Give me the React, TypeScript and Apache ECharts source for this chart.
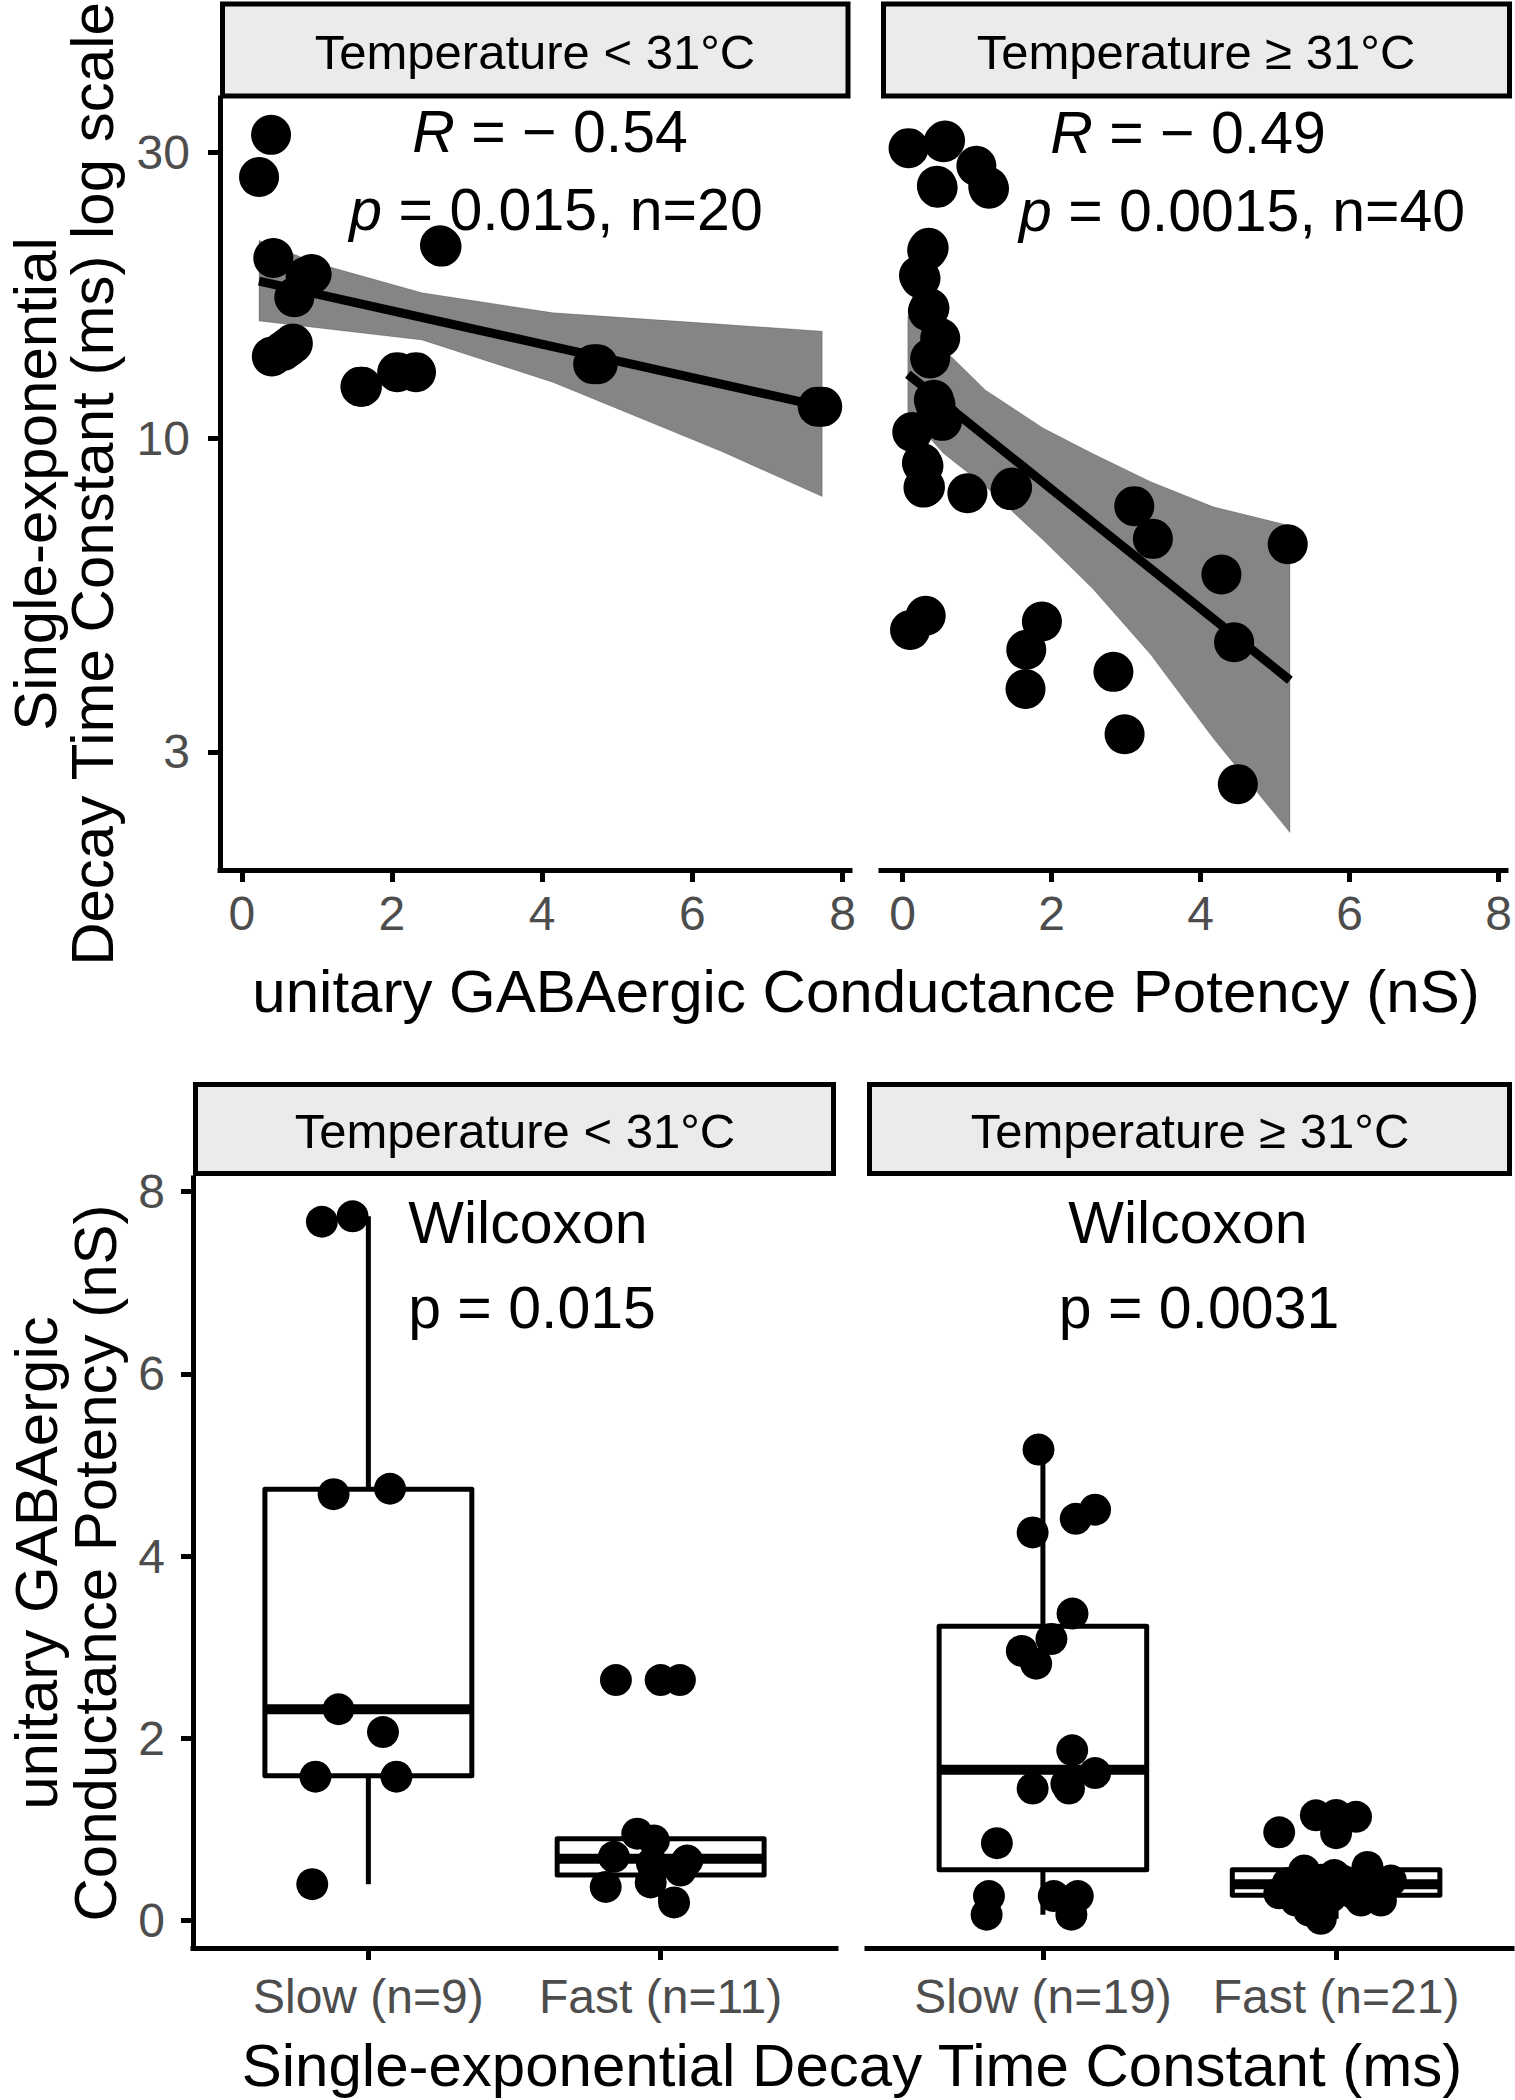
import React, { useEffect, useRef } from 'react';
import * as echarts from 'echarts';

// ---------- DATA ----------
// Top-left panel (Temperature < 31°C): potency (nS) vs decay tau (ms)
const topLeftX = [0.39, 0.23, 2.64, 2.66, 0.42, 0.93, 0.85, 0.70, 0.68, 0.62, 0.40, 1.58, 1.60, 2.07, 2.32, 4.68, 4.74, 7.67, 7.73, 0.55];
const topLeftY = [32.1, 27.3, 21.0, 20.9, 20.0, 18.8, 18.6, 17.2, 14.4, 14.2, 13.7, 12.2, 12.2, 12.9, 12.9, 13.3, 13.3, 11.3, 11.3, 14.0];
// Top-right panel (Temperature >= 31°C)
const topRightX = [0.08, 0.57, 0.99, 0.46, 1.16, 0.35, 0.24, 0.36, 0.505, 0.37, 0.44, 0.53, 0.13, 0.28, 0.28, 0.87, 1.47, 3.11, 3.36, 5.17,
  4.28, 4.45, 0.31, 0.10, 1.87, 1.66, 1.65, 2.83, 2.98, 4.50, 1.15, 1.45, 0.22, 0.26, 0.30, 0.33, 0.42, 0.47, 0.55, 0.34];
const topRightY = [30.5, 31.4, 28.5, 26.4, 26.1, 20.8, 18.5, 16.5, 14.7, 13.6, 11.4, 10.7, 10.25, 9.0, 8.28, 8.1, 8.28, 7.71, 6.8, 6.66,
  5.93, 4.57, 5.06, 4.79, 4.95, 4.44, 3.82, 4.08, 3.21, 2.65, 26.3, 8.2, 18.7, 9.1, 8.3, 20.6, 11.6, 26.2, 31.2, 16.3];

// Regression lines and confidence ribbons (ms values)
const topLeftLineX = [0.23, 7.73];
const topLeftLineY = [18.3, 11.3];
const topLeftBandX = [0.23, 1.0, 2.4, 4.15, 6.4, 7.73];
const topLeftBandUpper = [21.4, 19.6, 17.5, 16.2, 15.5, 15.1];
const topLeftBandLower = [15.7, 15.3, 14.6, 12.4, 9.5, 8.0];

const topRightLineX = [0.07, 5.2];
const topRightLineY = [12.8, 3.95];
const topRightBandX = [0.07, 0.55, 1.11, 1.89, 2.55, 3.33, 4.17, 5.2];
const topRightBandUpper = [16.0, 14.1, 12.05, 10.4, 9.44, 8.47, 7.69, 7.15];
const topRightBandLower = [11.0, 9.44, 8.32, 6.76, 5.62, 4.36, 3.16, 2.2];

const topTickValues = [3, 10, 30];
const topXTicks = [0, 2, 4, 6, 8];

// Bottom panels: categories and jittered points (x = jittered category position, y = nS)
const bottomLeftCategories = ['Slow (n=9)', 'Fast (n=11)'];
const bottomRightCategories = ['Slow (n=19)', 'Fast (n=21)'];

const slowLeftX = [0.841, 0.946, 0.881, 1.074, 0.898, 1.05, 0.819, 1.096, 0.808];
const slowLeftY = [7.67, 7.73, 4.68, 4.74, 2.32, 2.07, 1.58, 1.58, 0.40];
const fastLeftX = [1.847, 2.066, 1.92, 1.977, 1.84, 2.091, 2.068, 1.966, 1.812, 2.046, 1.97];
const fastLeftY = [2.64, 2.64, 0.955, 0.88, 0.70, 0.66, 0.55, 0.42, 0.37, 0.20, 0.63];
const fastLeftOutliers = [2.64];

const slowRightX = [0.985, 0.965, 1.112, 1.178, 1.101, 1.029, 0.928, 0.977, 1.10, 1.178, 0.965, 1.089, 1.08, 0.843, 0.816, 0.808, 1.037, 1.119, 1.097];
const slowRightY = [5.17, 4.26, 4.41, 4.51, 3.37, 3.09, 2.96, 2.82, 1.87, 1.62, 1.45, 1.45, 1.50, 0.85, 0.27, 0.065, 0.27, 0.27, 0.065];
const fastRightX = [1.806, 1.931, 2.068, 1.891, 1.994, 2.107, 2.187, 1.806, 1.863, 1.908, 1.948, 1.942, 2.045, 2.085, 2.153, 1.835, 2.119, 1.982, 2.022, 1.95, 2.06];
const fastRightY = [0.97, 1.156, 1.14, 0.55, 0.50, 0.59, 0.44, 0.30, 0.22, 0.11, 0.02, 0.37, 0.33, 0.22, 0.22, 0.41, 0.41, 0.26, 0.44, 0.45, 0.30];
const fastRightOutliers = [1.16, 0.96];

// Box statistics: [min, Q1, median, Q3, max]
const slowLeftBox = [0.40, 1.59, 2.32, 4.735, 7.73];
const fastLeftBox = [0.20, 0.50, 0.68, 0.90, 0.955];
const slowRightBox = [0.065, 0.56, 1.655, 3.23, 5.17];
const fastRightBox = [0.02, 0.28, 0.40, 0.56, 0.62];

const bottomYTicks = [0, 2, 4, 6, 8];

// ---------- STYLE ----------
const FONT = '"Liberation Sans", Arial, Helvetica, sans-serif';
const TICK_GREY = '#4D4D4D';
const STRIP_FILL = '#EBEBEB';

const log = (v: number) => Math.log10(v);

function axisCommon(show: boolean) {
  return {
    axisLine: { show, onZero: false, lineStyle: { color: '#000', width: 5, cap: 'square' } },
    splitLine: { show: false },
    splitArea: { show: false },
  };
}

function bandSeries(idx: number, bx: number[], up: number[], lo: number[]) {
  return {
    type: 'custom',
    xAxisIndex: idx,
    yAxisIndex: idx,
    z: 6,
    silent: true,
    encode: { x: 0, y: 1 },
    data: [[bx[0], log(lo[0])]],
    renderItem: (_p: any, api: any) => {
      const points: number[][] = [];
      for (let i = 0; i < bx.length; i++) points.push(api.coord([bx[i], log(up[i])]));
      for (let i = bx.length - 1; i >= 0; i--) points.push(api.coord([bx[i], log(lo[i])]));
      return { type: 'polygon', shape: { points }, style: { fill: 'rgba(0,0,0,0.48)', stroke: 'rgba(0,0,0,0.2)', lineWidth: 1 } };
    },
  };
}

function boxSeries(idx: number, boxes: number[][]) {
  const HALF = 0.354;
  return {
    type: 'custom',
    xAxisIndex: idx,
    yAxisIndex: idx,
    z: 2,
    silent: true,
    encode: { x: 0, y: [1, 2, 3, 4, 5] },
    data: boxes,
    renderItem: (_p: any, api: any) => {
      const c = api.value(0);
      const mn = api.value(1), q1 = api.value(2), md = api.value(3), q3 = api.value(4), mx = api.value(5);
      const tl = api.coord([c - HALF, q3]);
      const br = api.coord([c + HALF, q1]);
      const mL = api.coord([c - HALF, md]);
      const mR = api.coord([c + HALF, md]);
      const top = api.coord([c, mx]);
      const qt = api.coord([c, q3]);
      const qb = api.coord([c, q1]);
      const bot = api.coord([c, mn]);
      const ls = { stroke: '#000', lineWidth: 5 };
      return {
        type: 'group',
        children: [
          { type: 'line', shape: { x1: top[0], y1: top[1], x2: qt[0], y2: qt[1] }, style: ls },
          { type: 'line', shape: { x1: qb[0], y1: qb[1], x2: bot[0], y2: bot[1] }, style: ls },
          { type: 'rect', shape: { x: tl[0], y: tl[1], width: br[0] - tl[0], height: br[1] - tl[1] }, style: { fill: '#fff', stroke: '#000', lineWidth: 5, lineJoin: 'round' } },
          { type: 'line', shape: { x1: mL[0], y1: mL[1], x2: mR[0], y2: mR[1] }, style: { stroke: '#000', lineWidth: 10 } },
        ],
      };
    },
  };
}

function pointSeries(idx: number, xs: number[], ys: number[], size: number, useLog: boolean) {
  return {
    type: 'scatter',
    xAxisIndex: idx,
    yAxisIndex: idx,
    z: 4,
    silent: true,
    symbol: 'circle',
    symbolSize: size,
    itemStyle: { color: '#000', opacity: 1 },
    data: xs.map((x, i) => [x, useLog ? log(ys[i]) : ys[i]]),
  };
}

function lineSeries(idx: number, xs: number[], ys: number[]) {
  return {
    type: 'line',
    xAxisIndex: idx,
    yAxisIndex: idx,
    z: 7,
    silent: true,
    symbol: 'none',
    lineStyle: { color: '#000', width: 9 },
    data: xs.map((x, i) => [x, log(ys[i])]),
  };
}

function txt(text: string, x: number, y: number, size: number, opts: any = {}) {
  return {
    type: 'text',
    x,
    y,
    rotation: opts.rotation || 0,
    z: 100,
    silent: true,
    style: {
      text,
      fontSize: size,
      fontFamily: FONT,
      fill: opts.fill || '#000',
      align: 'center',
      verticalAlign: 'middle',
      textAlign: 'center',
      textVerticalAlign: 'middle',
      rich: opts.rich,
    },
  };
}

function strip(x: number, y: number, w: number, h: number) {
  return {
    type: 'rect',
    z: 50,
    silent: true,
    shape: { x, y, width: w, height: h },
    style: { fill: STRIP_FILL, stroke: '#000', lineWidth: 5 },
  };
}

function buildOption() {
  const labelStyle = { fontSize: 48, color: TICK_GREY, fontFamily: FONT };
  const tickStyle = { show: true, length: 12, lineStyle: { color: '#000', width: 5 } };
  const logTicks = topTickValues.map(log);
  const italicRich = {
    i: { fontStyle: 'italic', fontSize: 59, fontFamily: FONT, fill: '#000', color: '#000' },
    n: { fontSize: 59, fontFamily: FONT, fill: '#000', color: '#000' },
  };

  const topX = (gridIndex: number) => ({
    type: 'value', gridIndex, min: -0.29, max: 8.1,
    ...axisCommon(true),
    axisTick: { ...tickStyle, customValues: topXTicks },
    axisLabel: { ...labelStyle, margin: 19, customValues: topXTicks },
  });
  const bottomX = (gridIndex: number, cats: string[]) => ({
    type: 'value', gridIndex, min: 0.4, max: 2.6,
    ...axisCommon(true),
    axisTick: { ...tickStyle, customValues: [1, 2] },
    axisLabel: {
      ...labelStyle, margin: 24, customValues: [1, 2],
      formatter: (v: number) => cats[Math.round(v) - 1] || '',
    },
  });

  return {
    animation: false,
    backgroundColor: '#fff',
    textStyle: { fontFamily: FONT },
    grid: [
      { left: 220, top: 98, width: 630, height: 772, outerBoundsMode: 'none', containLabel: false },
      { left: 881, top: 98, width: 625, height: 772, outerBoundsMode: 'none', containLabel: false },
      { left: 193, top: 1178, width: 643, height: 770, outerBoundsMode: 'none', containLabel: false },
      { left: 867, top: 1178, width: 645, height: 770, outerBoundsMode: 'none', containLabel: false },
    ],
    xAxis: [
      topX(0),
      topX(1),
      bottomX(2, bottomLeftCategories),
      bottomX(3, bottomRightCategories),
    ],
    yAxis: [
      {
        type: 'value', gridIndex: 0, min: 0.28, max: 1.568,
        ...axisCommon(true),
        axisTick: { ...tickStyle, customValues: logTicks },
        axisLabel: {
          ...labelStyle, margin: 30, customValues: logTicks,
          formatter: (v: number) => String(Math.round(Math.pow(10, v))),
        },
      },
      {
        type: 'value', gridIndex: 1, min: 0.28, max: 1.568,
        ...axisCommon(false),
        axisTick: { show: false },
        axisLabel: { show: false },
      },
      {
        type: 'value', gridIndex: 2, min: -0.3, max: 8.15,
        ...axisCommon(true),
        axisTick: { ...tickStyle, customValues: bottomYTicks },
        axisLabel: { ...labelStyle, margin: 28, customValues: bottomYTicks },
      },
      {
        type: 'value', gridIndex: 3, min: -0.3, max: 8.15,
        ...axisCommon(false),
        axisTick: { show: false },
        axisLabel: { show: false },
      },
    ],
    series: [
      // top-left
      pointSeries(0, topLeftX, topLeftY, 40, true),
      bandSeries(0, topLeftBandX, topLeftBandUpper, topLeftBandLower),
      lineSeries(0, topLeftLineX, topLeftLineY),
      // top-right
      pointSeries(1, topRightX, topRightY, 40, true),
      bandSeries(1, topRightBandX, topRightBandUpper, topRightBandLower),
      lineSeries(1, topRightLineX, topRightLineY),
      // bottom-left
      boxSeries(2, [[1, ...slowLeftBox], [2, ...fastLeftBox]]),
      pointSeries(2, slowLeftX, slowLeftY, 32, false),
      pointSeries(2, fastLeftX, fastLeftY, 32, false),
      pointSeries(2, fastLeftOutliers.map(() => 2), fastLeftOutliers, 32, false),
      // bottom-right
      boxSeries(3, [[1, ...slowRightBox], [2, ...fastRightBox]]),
      pointSeries(3, slowRightX, slowRightY, 32, false),
      pointSeries(3, fastRightX, fastRightY, 32, false),
      pointSeries(3, fastRightOutliers.map(() => 2), fastRightOutliers, 32, false),
    ],
    graphic: [
      // strips
      strip(222.5, 4, 625.5, 92),
      strip(883.5, 4, 626, 92),
      strip(195.5, 1084.5, 638, 89),
      strip(869.5, 1084.5, 640, 89),
      txt('Temperature < 31°C', 535, 52, 49),
      txt('Temperature ≥ 31°C', 1196, 52, 49),
      txt('Temperature < 31°C', 515, 1131, 49),
      txt('Temperature ≥ 31°C', 1190, 1131, 49),
      // annotations
      txt('{i|R}{n| = − 0.54}', 550, 132, 59, { rich: italicRich }),
      txt('{i|p}{n| = 0.015, n=20}', 556, 210, 59, { rich: italicRich }),
      txt('{i|R}{n| = − 0.49}', 1188, 133, 59, { rich: italicRich }),
      txt('{i|p}{n| = 0.0015, n=40}', 1242, 211, 59, { rich: italicRich }),
      txt('Wilcoxon', 528, 1223, 59),
      txt('p = 0.015', 532, 1308, 59),
      txt('Wilcoxon', 1188, 1223, 59),
      txt('p = 0.0031', 1199, 1308, 59),
      // axis titles
      txt('unitary GABAergic Conductance Potency (nS)', 866, 991, 60),
      txt('Single-exponential Decay Time Constant (ms)', 852, 2065, 60),
      txt('Single-exponential', 35, 484, 60, { rotation: Math.PI / 2 }),
      txt('Decay Time Constant (ms) log scale', 92, 484, 60, { rotation: Math.PI / 2 }),
      txt('unitary GABAergic', 36, 1563, 60, { rotation: Math.PI / 2 }),
      txt('Conductance Potency (nS)', 95, 1563, 60, { rotation: Math.PI / 2 }),
    ],
  };
}

export default function App() {
  const ref = useRef<HTMLDivElement>(null);
  useEffect(() => {
    document.body.style.margin = '0';
    const chart = echarts.init(ref.current as HTMLDivElement, null, { renderer: 'svg' });
    chart.setOption(buildOption() as any);
    return () => chart.dispose();
  }, []);
  return <div ref={ref} style={{ width: 1515, height: 2100 }} />;
}
